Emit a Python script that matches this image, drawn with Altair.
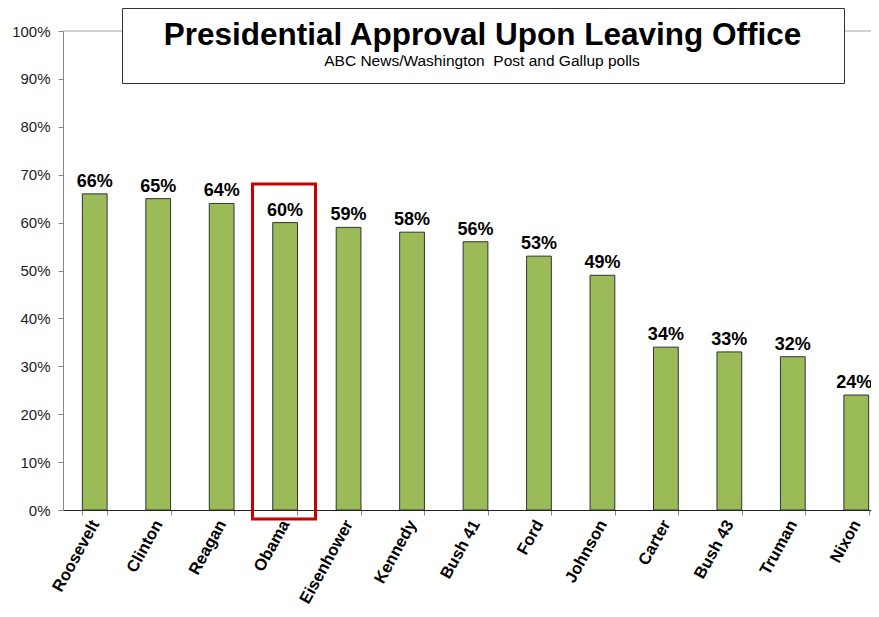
import altair as alt
import pandas as pd

presidents = ["Roosevelt", "Clinton", "Reagan", "Obama", "Eisenhower", "Kennedy",
              "Bush 41", "Ford", "Johnson", "Carter", "Bush 43", "Truman", "Nixon"]
approval = [0.66, 0.65, 0.64, 0.60, 0.59, 0.58, 0.56, 0.53, 0.49, 0.34, 0.33, 0.32, 0.24]
y_ticks = [0, 0.1, 0.2, 0.3, 0.4, 0.5, 0.6, 0.7, 0.8, 0.9, 1.0]
title_text = "Presidential Approval Upon Leaving Office"
subtitle_text = "ABC News/Washington\u00a0 Post and Gallup polls"

df = pd.DataFrame({"president": presidents, "approval": approval})

FONT = "Liberation Sans"
W, H = 825, 479
LAST = presidents[-1]

x_enc = alt.X(
    "president:N", sort=presidents, title=None,
    scale=alt.Scale(paddingInner=0.61, paddingOuter=0.305),
    axis=alt.Axis(labelAngle=-61, labelAlign="right", labelBaseline="middle",
                  labelFontSize=16.5, labelFontWeight="bold", labelColor="#000000",
                  labelFont=FONT, tickBand="extent", tickSize=5, tickColor="#868686",
                  domainColor="#222222", labelPadding=6),
)
y_enc = alt.Y(
    "approval:Q", title=None,
    scale=alt.Scale(domain=[0, 1], nice=False),
    axis=alt.Axis(values=y_ticks, format=".0%", labelFontSize=15, labelColor="#222222",
                  labelFont=FONT, tickSize=5, tickColor="#868686", domainColor="#868686",
                  labelPadding=8, grid=False),
)

one = pd.DataFrame({"k": [0]})

top_line = alt.Chart(one).mark_rule(color="#A6A6A6", strokeWidth=1).encode(
    x=alt.value(0), x2=alt.value(W), y=alt.value(0)
)

bars = alt.Chart(df).mark_bar(color="#9BBB59", stroke="#333333", strokeWidth=1).encode(
    x=x_enc, y=y_enc
)

label_style = dict(baseline="alphabetic", fontSize=18, fontWeight="bold", font=FONT,
                   color="#000000")
label_enc = dict(
    x=alt.X("president:N", sort=presidents),
    y="approval:Q",
    text=alt.Text("approval:Q", format=".0%"),
)
labels = alt.Chart(df).transform_filter(
    alt.datum.president != LAST
).mark_text(dy=-7, **label_style).encode(**label_enc)
labels_last = alt.Chart(df).transform_filter(
    alt.datum.president == LAST
).mark_text(dy=-7, dx=-2, **label_style).encode(**label_enc)

box = alt.Chart(one).mark_rect(fill="white", stroke="#333333", strokeWidth=1).encode(
    x=alt.value(59.5), x2=alt.value(781.5), y=alt.value(-22.5), y2=alt.value(52.5)
)

title = alt.Chart(pd.DataFrame({"t": [title_text]})).mark_text(
    fontSize=31.5, fontWeight="bold", font=FONT, color="#000000", align="center",
    baseline="alphabetic"
).encode(x=alt.value(419.5), y=alt.value(14), text="t:N")

subtitle = alt.Chart(pd.DataFrame({"t": [subtitle_text]})).mark_text(
    fontSize=15.5, font=FONT, color="#000000", align="center", baseline="alphabetic"
).encode(x=alt.value(419), y=alt.value(35), text="t:N")

highlight = alt.Chart(one).mark_rect(fillOpacity=0, fill="white", stroke="#CC0000",
                                     strokeWidth=3).encode(
    x=alt.value(189.5), x2=alt.value(252.5), y=alt.value(153), y2=alt.value(488)
)

chart = alt.layer(top_line, bars, labels, labels_last, box, title, subtitle,
                  highlight).properties(
    width=W, height=H,
    autosize=alt.AutoSizeParams(type="none"),
    padding={"left": 55, "top": 23, "right": -17, "bottom": 99},
).configure_view(stroke=None)

chart.save("out.html", embed_options={"renderer": "svg", "actions": False})
